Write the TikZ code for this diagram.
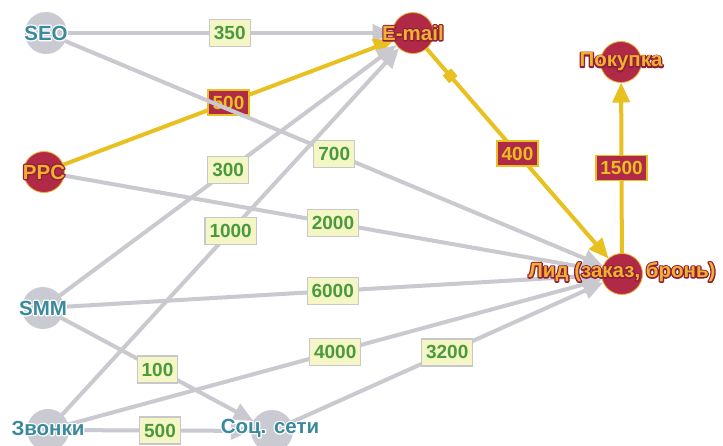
\documentclass[tikz,border=0pt]{standalone}
\usepackage{fontspec}
\setmainfont{Liberation Sans}
\usetikzlibrary{arrows.meta,calc}

\definecolor{edgegray}{HTML}{C9C9CF}
\definecolor{nodegray}{HTML}{CACAD2}
\definecolor{tealtxt}{HTML}{3A8A9C}
\definecolor{crimson}{HTML}{B02A48}
\definecolor{darkrim}{HTML}{8E1F3A}
\definecolor{gold}{HTML}{E8C020}
\definecolor{amber}{HTML}{F2B030}
\definecolor{numgreen}{HTML}{4A9A3C}
\definecolor{boxfill}{HTML}{F4F6C6}
\definecolor{boxline}{HTML}{C8C8C8}

\newcommand{\labfont}{\fontsize{19}{22}\selectfont\bfseries}
\newcommand{\capfont}{\fontsize{20.5}{24}\selectfont\bfseries}
% stroked (fill + outline) text, used as the rim under a caption
% #1 rim colour as rgb operands, #2 text
\newcommand{\strokedtext}[2]{\special{pdf:literal q 2 Tr 2.6 w 1 j #1 RG}#2\special{pdf:literal Q}}
% caption: rim node underneath, plain node on top
% #1 position, #2 rim rgb, #3 rim colour, #4 text colour, #5 text
\newcommand{\rimcaption}[5]{%
  \node[font=\capfont, text=#3] at (#1) {\strokedtext{#2}{#5}};
  \node[font=\capfont, text=#4] at (#1) {#5};}
\newcommand{\coolcap}[2]{\rimcaption{#1}{1 1 1}{white}{tealtxt}{#2}}
\newcommand{\hotcap}[2]{\rimcaption{#1}{0.557 0.122 0.227}{darkrim}{amber}{#2}}

\begin{document}
\begin{tikzpicture}[x=1pt,y=-1pt,
  coolnode/.style={circle, fill=nodegray, minimum size=42pt, inner sep=0pt, outer sep=0pt},
  hotnode/.style={circle, fill=crimson, draw=amber, line width=0.8pt, minimum size=41pt, inner sep=0pt, outer sep=0pt},
  grayedge/.style={draw=edgegray, line width=4pt, -{Triangle[length=20pt,width=17pt]}},
  goldedge/.style={draw=gold, line width=4pt, -{Triangle[length=20pt,width=17pt]}},
  numbox/.style={fill=boxfill, draw=boxline, line width=1.2pt, text=numgreen, font=\labfont,
    inner xsep=4.5pt, inner ysep=6pt, text height=14pt, text depth=1pt},
  hotbox/.style={fill=crimson, draw=gold, line width=1.6pt, text=gold, font=\labfont,
    inner xsep=4.5pt, inner ysep=5pt, text height=14pt, text depth=1pt},
  tick/.style={sloped, fill=gold, minimum width=10pt, minimum height=11pt, inner sep=0pt}
]
\useasboundingbox (0,0) rectangle (723,445);
\fill[white] (0,0) rectangle (723,445);
\clip (0,0) rectangle (723,445);

% circles
\node[coolnode] (seo)   at (46,33)  {};
\node[hotnode]  (ppc)   at (44,172) {};
\node[coolnode] (smm)   at (43,308) {};
\node[coolnode] (calls) at (48,430) {};
\node[coolnode] (soc)   at (272,431) {};
\node[hotnode]  (email) at (413,33)  {};
\node[hotnode]  (buy)   at (621,62)  {};
\node[hotnode]  (lead)  at (622,274) {};

% connectors with their amounts
\draw[grayedge] (seo) -- node[numbox] {350} (email);
\draw[goldedge] (ppc) -- node[hotbox] {500} (email);
\draw[grayedge] (seo) -- node[numbox] {700} (lead);
\draw[grayedge] (ppc) -- node[numbox] {2000} (lead);
\draw[grayedge] (smm) -- node[numbox] {300} (email);
\draw[grayedge] (calls) -- node[numbox] {1000} (email);
\draw[grayedge] (smm) -- node[numbox] {6000} (lead);
\draw[grayedge] (calls) -- node[numbox] {4000} (lead);
\draw[grayedge] (smm) -- node[numbox] {100} (soc);
\draw[grayedge] (calls) -- node[numbox] {500} (soc);
\draw[grayedge] (soc) -- node[numbox] {3200} (lead);
\draw[goldedge] (email) -- node[pos=0.13, tick] {} node[hotbox] {400} (lead);
\draw[goldedge] (lead) -- node[hotbox] {1500} (buy);

% node captions
\coolcap{seo}{SEO}
\hotcap{ppc}{PPC}
\coolcap{smm}{SMM}
\coolcap{$(calls)+(0,-2)$}{Звонки}
\coolcap{$(soc)+(-2,-3)$}{Соц. сети}
\hotcap{email}{E-mail}
\hotcap{buy}{Покупка}
\hotcap{$(lead)+(0,-2)$}{Лид (заказ, бронь)}
\end{tikzpicture}
\end{document}
